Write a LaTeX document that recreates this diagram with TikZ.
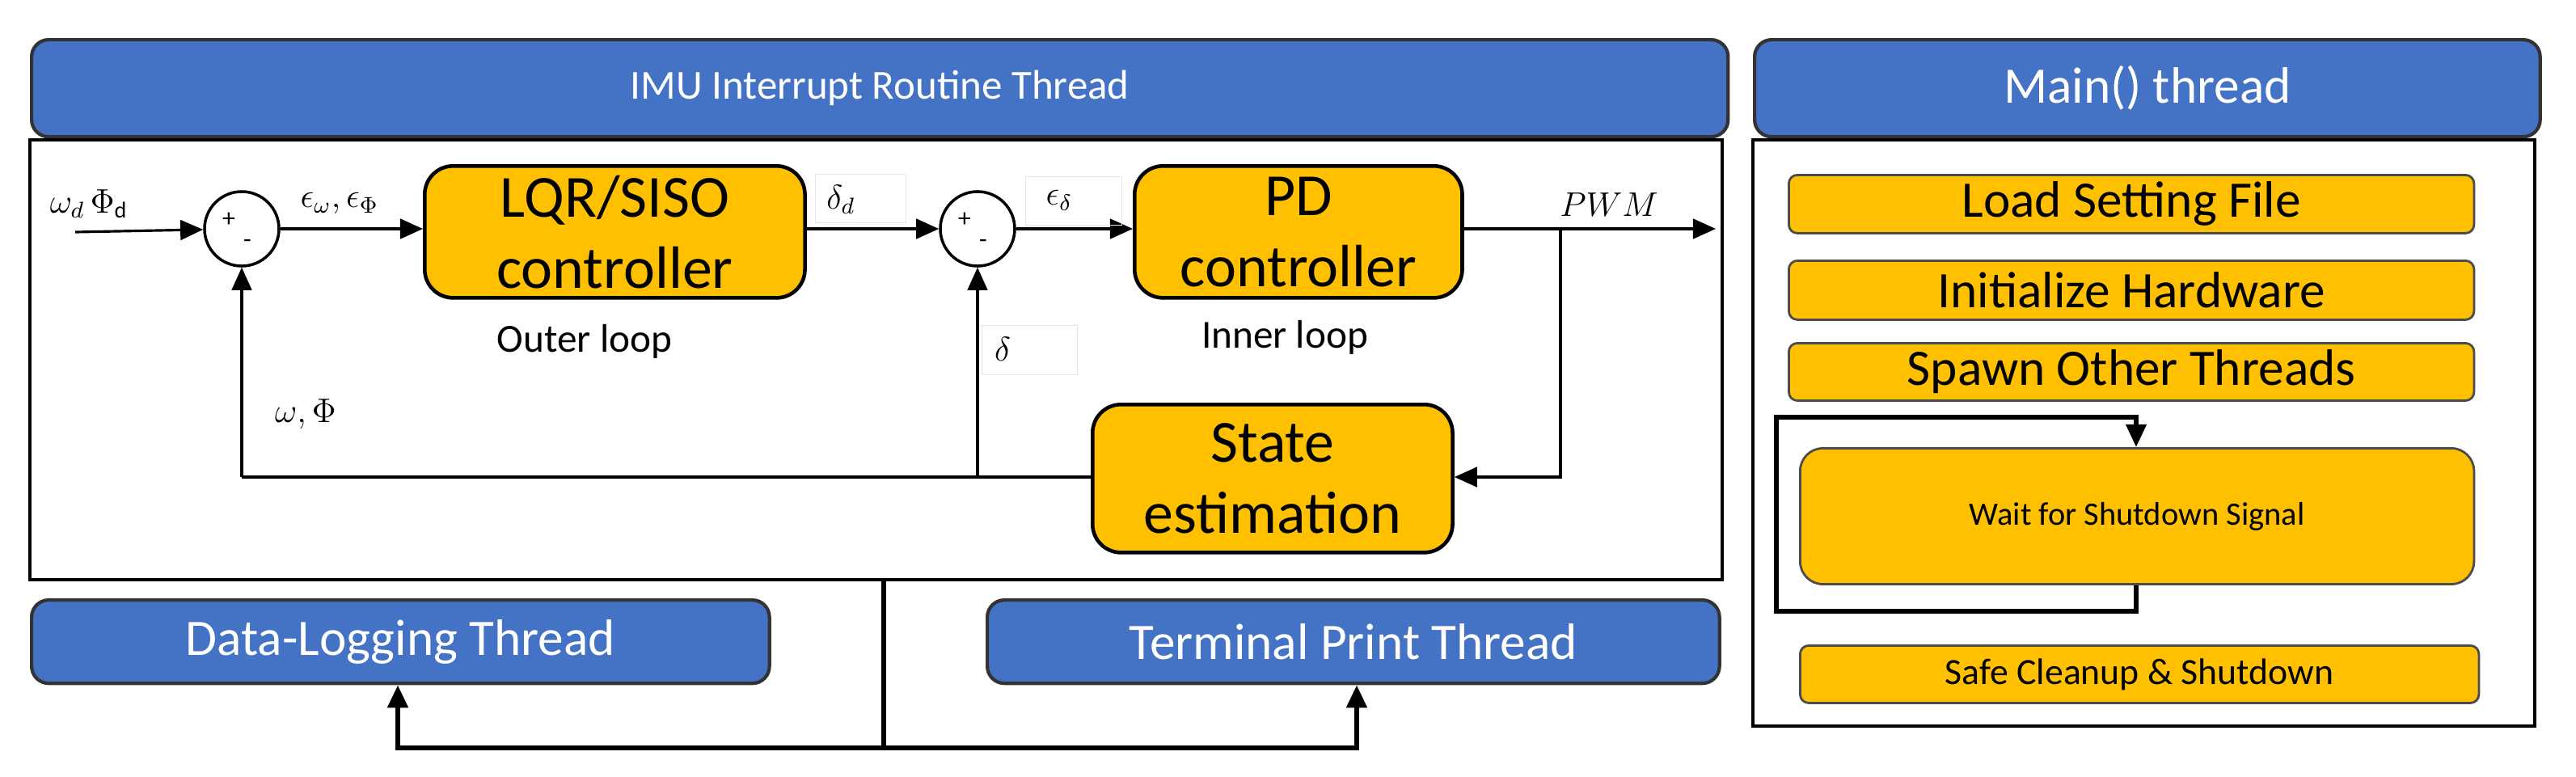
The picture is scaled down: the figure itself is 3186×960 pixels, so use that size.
\documentclass[tikz,border=0pt]{standalone}
\usepackage{fontspec}
\setmainfont{Carlito}
\usepackage{xcolor}
\usetikzlibrary{positioning,arrows.meta}
\definecolor{hdrblue}{HTML}{4472C4}
\definecolor{gold}{HTML}{FFC000}
\tikzset{
  header/.style={draw=black!80, line width=1.2pt, fill=hdrblue, rounded corners=6pt, text=white, anchor=north west, inner sep=0pt},
  block/.style={draw=black, line width=1.3pt, fill=gold, rounded corners=10pt, anchor=north west, align=center, inner sep=0pt},
  task/.style={draw=black!70, line width=0.8pt, fill=gold, rounded corners=3pt, anchor=north west, inner sep=0pt},
  sumpt/.style={draw, circle, line width=1pt, minimum size=0.92cm, inner sep=0pt},
  lblbox/.style={draw=black!10, anchor=north west, inner sep=0pt},
  sig/.style={-{Triangle[length=8pt,width=7pt]}, line width=0.9pt},
}
\begin{document}
\begin{tikzpicture}[x=0.01cm, y=-0.01cm]
    \useasboundingbox (0,0) rectangle (3186,960);

    % headers and frames
    \node[header, minimum width=20.97cm, minimum height=1.2cm, font=\fontsize{14.5}{16}\selectfont] (imu) at (37,47) {IMU Interrupt Routine Thread};
    \draw[line width=1.2pt] (37,173) rectangle (2130,717);
    \coordinate (framebot) at (1093,717);
    \node[header, minimum width=9.71cm, minimum height=1.2cm, font=\fontsize{18}{20}\selectfont] (mainhdr) at (2168,47) {Main() thread};
    \draw[line width=1.2pt] (2168,173) rectangle (3135,898);
    \node[header, minimum width=9.12cm, minimum height=1.03cm, font=\fontsize{18}{20}\selectfont] (log) at (37,740) {Data-Logging Thread};
    \node[header, minimum width=9.05cm, minimum height=1.03cm, font=\fontsize{18}{20}\selectfont] (term) at (1219,740) {Terminal Print Thread};

    % control loop
    \coordinate (in) at (93,287);
    \node[sumpt] (sum1) at (299,283) {};
    \node[font=\small] at (283,272) {+};
    \node[font=\small] at (306,301) {-};
    \node[block, minimum width=4.7cm, minimum height=1.63cm, font=\fontsize{21}{25}\selectfont] (lqr) at (523,203) {LQR/SISO\\controller};
    \node[sumpt] (sum2) at (1209,283) {};
    \node[font=\small] at (1193,272) {+};
    \node[font=\small] at (1216,301) {-};
    \node[block, minimum width=4.05cm, minimum height=1.63cm, font=\fontsize{21}{25}\selectfont] (pd) at (1401,203) {PD\\controller};
    \coordinate (out) at (2122,283);
    \coordinate (tap) at (1930,283);
    \node[block, minimum width=4.45cm, minimum height=1.83cm, font=\fontsize{21}{25}\selectfont] (est) at (1349,498) {State\\estimation};
    \coordinate (fbr) at (1930,590);
    \coordinate (fb2) at (1209,590);
    \coordinate (fb1) at (299,590);

    \draw[sig] (in) -- (sum1);
    \draw[sig] (sum1) -- (sum1 -| lqr.west);
    \draw[sig] (lqr.east |- sum2) -- (sum2);
    \draw[sig] (sum2) -- (sum2 -| pd.west);
    \draw[sig] (pd.east |- out) -- (out);
    \draw[sig] (tap) -- (fbr) -- (fbr -| est.east);
    \draw[line width=0.9pt] (est.west |- fb1) -- (fb1);
    \draw[sig] (fb1) -- (sum1);
    \draw[sig] (fb2) -- (sum2);

    % signal labels
    \node[font=\large] (wdphid) at (110,252) {$\omega_d\,\Phi_\mathrm{d}$};
    \node[font=\large] (eps) at (420,252) {$\epsilon_\omega,\epsilon_\Phi$};
    \node[lblbox, minimum width=1.12cm, minimum height=0.6cm] (dd) at (1008,215) {};
    \node[font=\large] at (1040,247) {$\delta_d$};
    \node[lblbox, minimum width=1.19cm, minimum height=0.6cm] (ed) at (1268,218) {};
    \node[font=\large] at (1310,248) {$\epsilon_\delta$};
    \node[font=\large] (pwm) at (1990,253) {$PWM$};
    \node[lblbox, minimum width=1.18cm, minimum height=0.61cm] (dl) at (1214,402) {};
    \node[font=\large] at (1240,432) {$\delta$};
    \node[font=\large] (wphi) at (378,512) {$\omega,\Phi$};
    \node[font=\fontsize{14}{16}\selectfont] (outer) at (723,422) {Outer loop};
    \node[font=\fontsize{14}{16}\selectfont] (inner) at (1589,417) {Inner loop};

    % logging and print threads
    \coordinate (bus) at (1093,925);
    \draw[line width=1.8pt] (framebot) -- (bus);
    \draw[sig, line width=1.8pt] (bus) -| (log.south -| 492,0);
    \draw[sig, line width=1.8pt] (bus) -| (term.south -| 1678,0);

    % main thread tasks
    \node[task, minimum width=8.47cm, minimum height=0.72cm, font=\fontsize{18}{20}\selectfont] (load) at (2211,215) {Load Setting File};
    \node[task, minimum width=8.47cm, minimum height=0.73cm, font=\fontsize{18}{20}\selectfont] (init) at (2211,321) {Initialize Hardware};
    \node[task, minimum width=8.47cm, minimum height=0.71cm, font=\fontsize{18}{20}\selectfont] (spawn) at (2211,423) {Spawn Other Threads};
    \node[task, rounded corners=8pt, minimum width=8.33cm, minimum height=1.68cm, font=\fontsize{11.5}{13}\selectfont] (wait) at (2225,553) {Wait for Shutdown Signal};
    \node[task, minimum width=8.39cm, minimum height=0.71cm, font=\fontsize{13}{15}\selectfont] (safe) at (2225,797) {Safe Cleanup \& Shutdown};
    \coordinate (lp1) at (2642,756);
    \coordinate (lp2) at (2197,756);
    \coordinate (lp3) at (2197,516);
    \coordinate (lp4) at (2642,516);
    \draw[sig, line width=1.5pt] (wait.south -| lp1) -- (lp1) -- (lp2) -- (lp3) -- (lp4) -- (wait.north -| lp4);
\end{tikzpicture}
\end{document}
